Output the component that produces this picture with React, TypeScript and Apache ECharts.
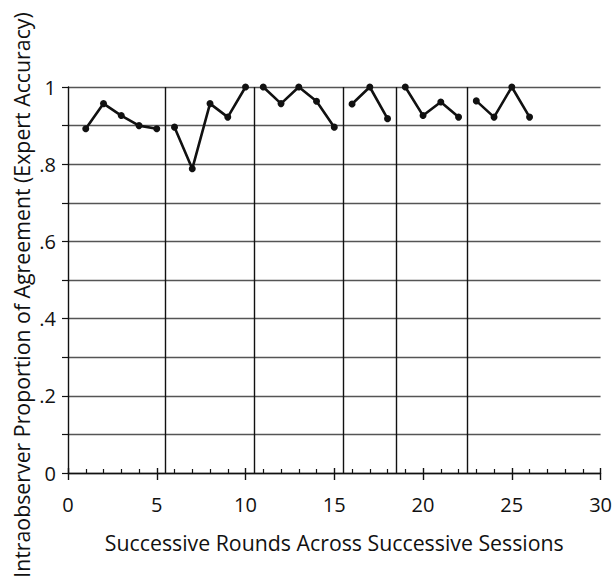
import React, { useEffect, useRef } from "react";
import * as echarts from "echarts";

// Round number and expert accuracy for each round
const rounds = [1, 2, 3, 4, 5, 6, 7, 8, 9, 10, 11, 12, 13, 14, 15, 16, 17, 18, 19, 20, 21, 22, 23, 24, 25, 26];
const agreement = [
  0.892, 0.957, 0.926, 0.9, 0.892,
  0.896, 0.788, 0.957, 0.922, 1.0,
  1.0, 0.957, 1.0, 0.963, 0.896,
  0.956, 1.0, 0.918,
  1.0, 0.926, 0.961, 0.922,
  0.964, 0.922, 1.0, 0.922,
];
// Number of rounds in each session
const sessionLengths = [5, 5, 5, 3, 4, 4];
// Vertical separators between sessions
const sessionBreaks = [5.5, 10.5, 15.5, 18.5, 22.5];

const FONT = "'Open Sans', 'Noto Sans', sans-serif";
const TITLE_SIZE = 21.3;
const TICK_SIZE = 20;

export default function App() {
  const ref = useRef<HTMLDivElement>(null);

  useEffect(() => {
    if (!ref.current) return;
    const chart = echarts.init(ref.current, null, { renderer: "svg" });

    const sessions: number[][][] = [];
    let start = 0;
    for (const len of sessionLengths) {
      const pts: number[][] = [];
      for (let i = start; i < start + len; i++) pts.push([rounds[i], agreement[i]]);
      sessions.push(pts);
      start += len;
    }

    const seriesList: any[] = sessions.map((pts, idx) => ({
      type: "line",
      xAxisIndex: 0,
      yAxisIndex: 0,
      data: pts,
      symbol: "circle",
      symbolSize: 7,
      itemStyle: { color: "#111" },
      lineStyle: { color: "#111", width: 2.6 },
      z: 5,
      markLine:
        idx === 0
          ? {
              silent: true,
              symbol: "none",
              label: { show: false },
              lineStyle: { color: "#111", width: 1.4, type: "solid" },
              data: sessionBreaks.map((b) => ({ xAxis: b })),
            }
          : undefined,
    }));

    chart.setOption({
      animation: false,
      backgroundColor: "#fff",
      grid: { left: 68, right: 11, top: 87, bottom: 106 },
      xAxis: [
        {
          type: "value",
          position: "bottom",
          min: 0,
          max: 30,
          interval: 5,
          name: "Successive Rounds Across Successive Sessions",
          nameLocation: "middle",
          nameGap: 59,
          nameTextStyle: { fontFamily: FONT, fontSize: TITLE_SIZE, color: "#111" },
          axisLine: { show: true, lineStyle: { color: "#111", width: 1.4 } },
          axisTick: { show: true, inside: false, length: 7, lineStyle: { color: "#111", width: 1.4 } },
          axisLabel: { margin: 21, fontFamily: FONT, fontSize: TICK_SIZE, color: "#111" },
          splitLine: { show: false },
        },
        {
          type: "value",
          position: "bottom",
          offset: 0,
          min: 0,
          max: 30,
          interval: 5,
          axisLine: { show: false },
          axisTick: { show: true, inside: true, length: 5, lineStyle: { color: "#111", width: 1.4 } },
          minorTick: { show: true, splitNumber: 5, length: 4, lineStyle: { color: "#111", width: 1.2 } },
          axisLabel: { show: false },
          splitLine: { show: false },
        },
      ],
      yAxis: {
        type: "value",
        min: 0,
        max: 1,
        interval: 0.1,
        axisLine: { show: true, lineStyle: { color: "#111", width: 1.4 } },
        axisTick: { show: true, inside: false, length: 6, lineStyle: { color: "#111", width: 1.2 } },
        axisLabel: {
          margin: 12,
          fontFamily: FONT,
          fontSize: TICK_SIZE,
          color: "#111",
          formatter: (v: number) => {
            const t = Math.round(v * 10);
            if (t % 2 !== 0) return "";
            if (t === 0) return "0";
            if (t === 10) return "1";
            return "." + t;
          },
        },
        splitLine: { show: true, lineStyle: { color: "#555", width: 1.3 } },
      },
      graphic: [
        {
          type: "text",
          x: 21,
          y: 295,
          rotation: Math.PI / 2,
          style: {
            text: "Intraobserver Proportion of Agreement (Expert Accuracy)",
            fontFamily: FONT,
            fontSize: TITLE_SIZE,
            fill: "#111",
            align: "center",
            verticalAlign: "middle",
          },
        },
      ],
      series: seriesList,
    });

    return () => chart.dispose();
  }, []);

  return (
    <div
      ref={ref}
      style={{ position: "fixed", left: 0, top: 0, width: 615, height: 579, background: "#fff" }}
    />
  );
}
